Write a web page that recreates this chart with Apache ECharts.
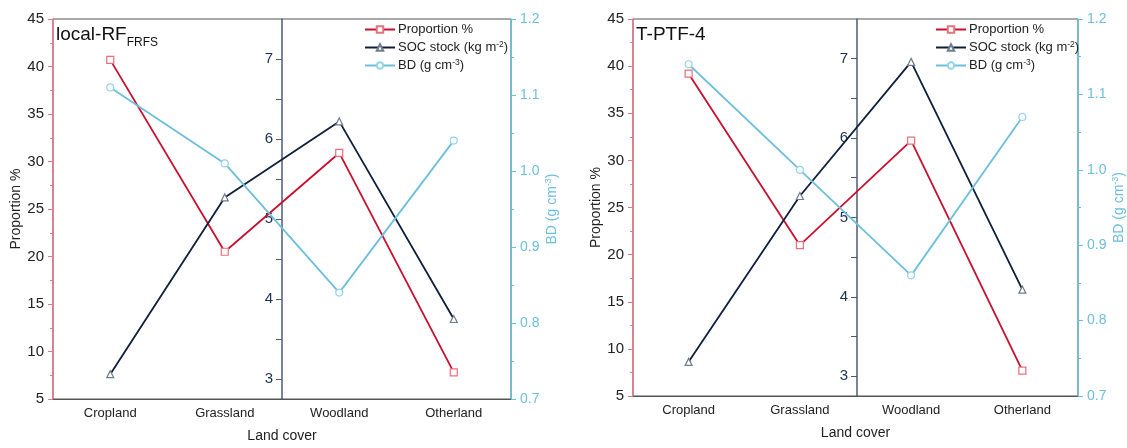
<!DOCTYPE html>
<html>
<head>
<meta charset="utf-8">
<script src="https://cdn.jsdelivr.net/npm/echarts@6/dist/echarts.min.js"></script>
<style>
  html, body { margin: 0; padding: 0; background: #fff; }
  #chart { width: 1127px; height: 448px; }
</style>
</head>
<body>
<div id="chart"></div>
<script>
// land cover categories
const landCover = ['Cropland', 'Grassland', 'Woodland', 'Otherland'];

// local-RF (FRFS) panel
const rfProportion = [40.7, 20.5, 30.9, 7.8];
const rfSoc = [3.06, 5.27, 6.22, 3.75];
const rfBd = [1.11, 1.01, 0.84, 1.04];

// T-PTF-4 panel
const ptfProportion = [39.2, 21.0, 32.1, 7.7];
const ptfSoc = [3.18, 5.27, 6.96, 4.09];
const ptfBd = [1.14, 1.00, 0.86, 1.07];

// axis ticks
const socLabels = [3, 4, 5, 6, 7];
const socTicks = [3, 3.5, 4, 4.5, 5, 5.5, 6, 6.5, 7];

const FONT = '"Liberation Sans", Arial, sans-serif';
const RED = '#c8102e', RED_LIGHT = '#e8707c', RED_AXIS = '#e47a88';
const NAVY = '#0d1f3c', NAVY_AXIS = '#4c5d73';
const BLUE = '#6cbfdc', BLUE_LIGHT = '#93d3ea';

let chart = echarts.init(document.getElementById('chart'));

// one panel = grid + x axis + 3 y axes + 3 series + legend + title
let grids = [], xAxes = [], yAxes = [], series = [], legends = [], titles = [];

function panel(idx, box, title, sub, prop, soc, bd, legendLeft) {
  grids.push({
    left: box.left, top: box.top, width: box.width, height: box.height,
    show: true, borderColor: '#555', borderWidth: 1
  });
  xAxes.push({
    gridIndex: idx, type: 'category', data: landCover, boundaryGap: true,
    name: 'Land cover', nameLocation: 'middle', nameGap: 30,
    nameTextStyle: { fontSize: 14, color: '#222', fontFamily: FONT },
    axisLine: { lineStyle: { color: '#555', width: 1.2 } },
    axisTick: { alignWithLabel: true, length: 5, lineStyle: { color: '#555' } },
    axisLabel: { fontSize: 13, color: '#222', fontFamily: FONT, margin: 8 },
    splitLine: { show: false }
  });
  // Proportion %
  yAxes.push({
    gridIndex: idx, type: 'value', position: 'left', min: 5, max: 45, interval: 5,
    name: 'Proportion %', nameLocation: 'middle', nameGap: 29, nameRotate: 90,
    nameTextStyle: { fontSize: 14, color: '#222', fontFamily: FONT },
    axisLine: { show: true, lineStyle: { color: RED_AXIS, width: 1.5 } },
    axisTick: { show: true, length: 5, lineStyle: { color: RED_AXIS } },
    minorTick: { show: true, splitNumber: 2, length: 3, lineStyle: { color: RED_AXIS } },
    axisLabel: { fontSize: 15, color: '#222', fontFamily: FONT, margin: 9 },
    splitLine: { show: false }
  });
  // SOC stock, drawn in the middle of the plot
  yAxes.push({
    gridIndex: idx, type: 'value', position: 'left', offset: -box.width / 2,
    min: 2.75, max: 7.5,
    axisLine: { show: true, lineStyle: { color: NAVY_AXIS, width: 1.5 } },
    axisTick: { show: true, length: 6, customValues: socTicks, lineStyle: { color: NAVY_AXIS } },
    axisLabel: { fontSize: 15, color: '#1e3050', fontFamily: FONT, margin: 9, customValues: socLabels },
    splitLine: { show: false }
  });
  // BD
  yAxes.push({
    gridIndex: idx, type: 'value', position: 'right', min: 0.7, max: 1.2, interval: 0.1,
    name: 'BD (g cm{sup|-3})', nameLocation: 'middle', nameGap: 33, nameRotate: 90,
    nameTextStyle: { fontSize: 14, color: BLUE, fontFamily: FONT,
      rich: { sup: { fontSize: 9, color: BLUE, fontFamily: FONT, padding: [0, 0, 7, 0] } } },
    axisLine: { show: true, lineStyle: { color: BLUE, width: 1.5 } },
    axisTick: { show: true, length: 5, lineStyle: { color: BLUE } },
    minorTick: { show: true, splitNumber: 2, length: 3, lineStyle: { color: BLUE } },
    axisLabel: { fontSize: 14, color: BLUE, fontFamily: FONT, margin: 9,
      formatter: v => v.toFixed(1) },
    splitLine: { show: false }
  });

  let base = idx * 3;
  series.push({
    name: 'Proportion %', type: 'line', xAxisIndex: idx, yAxisIndex: base,
    data: prop, symbol: 'rect', symbolSize: 7,
    lineStyle: { color: RED, width: 1.8 },
    itemStyle: { color: '#fff', borderColor: RED_LIGHT, borderWidth: 1.2 }
  });
  series.push({
    name: 'SOC stock (kg m-2)', type: 'line', xAxisIndex: idx, yAxisIndex: base + 1,
    data: soc, symbol: 'triangle', symbolSize: 7,
    lineStyle: { color: NAVY, width: 1.8 },
    itemStyle: { color: '#fff', borderColor: '#6f7c8e', borderWidth: 1.2 }
  });
  series.push({
    name: 'BD (g cm-3)', type: 'line', xAxisIndex: idx, yAxisIndex: base + 2,
    data: bd, symbol: 'circle', symbolSize: 7,
    lineStyle: { color: BLUE, width: 1.8 },
    itemStyle: { color: '#fff', borderColor: BLUE_LIGHT, borderWidth: 1.2 }
  });

  legends.push({
    left: legendLeft, top: 23, orient: 'vertical', padding: 0,
    itemWidth: 30, itemHeight: 8, itemGap: 4,
    data: ['Proportion %', 'SOC stock (kg m-2)', 'BD (g cm-3)'],
    formatter: n => n.replace('m-2', 'm{sup|-2}').replace('cm-3', 'cm{sup|-3}'),
    textStyle: { fontSize: 13, color: '#222', fontFamily: FONT, padding: [0, 0, 0, -2],
      rich: { sup: { fontSize: 8.5, color: '#222', fontFamily: FONT, padding: [0, 0, 6, 0] } } }
  });

  titles.push({
    text: sub ? '{a|' + title + '}{b|' + sub + '}' : '{a|' + title + '}',
    left: box.left + 3, top: 24, padding: 0,
    textStyle: {
      fontWeight: 'normal',
      rich: {
        a: { fontSize: 19, color: '#111', fontFamily: FONT, fontWeight: 'normal', lineHeight: 22 },
        b: { fontSize: 12, color: '#111', fontFamily: FONT, fontWeight: 'normal', lineHeight: 12, padding: [15, 0, 0, 0] }
      }
    }
  });
}

panel(0, { left: 53, top: 19, width: 458, height: 387 }, 'local-RF', 'FRFS',
  rfProportion, rfSoc, rfBd, 364);
panel(1, { left: 633, top: 19, width: 448, height: 377 }, 'T-PTF-4', '',
  ptfProportion, ptfSoc, ptfBd, 935);

chart.setOption({
  animation: false,
  title: titles,
  legend: legends,
  grid: grids,
  xAxis: xAxes,
  yAxis: yAxes,
  series: series
});
</script>
</body>
</html>
